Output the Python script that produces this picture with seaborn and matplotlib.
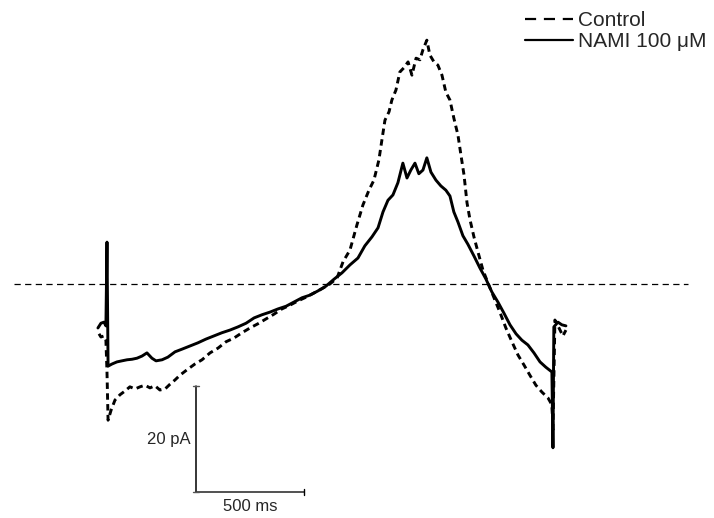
import matplotlib
matplotlib.use("Agg")
import matplotlib.pyplot as plt
import seaborn as sns
import pandas as pd
from matplotlib.lines import Line2D

# Time (ms) and current (pA)
nami_t = [-42, -28, -14, -5, 0, 5, 23, 46, 69, 93, 116, 139, 162, 185, 208, 227, 255, 282, 315, 347,
          384, 421, 458, 495, 532, 569, 606, 644, 681, 718, 755, 792, 829, 866, 903, 940, 977, 1014,
          1051, 1088, 1125, 1162, 1194, 1227, 1255, 1278, 1301, 1324, 1347, 1370, 1389, 1407, 1426,
          1444, 1463, 1481, 1500, 1523, 1546, 1569, 1588, 1606, 1625, 1648, 1671, 1699, 1727, 1755,
          1782, 1810, 1838, 1866, 1894, 1921, 1949, 1977, 2005, 2032, 2060, 2065, 2069, 2088, 2106, 2125]
nami_i = [-8.3, -7.4, -7.2, -7.9, 7.9, -15.5, -15.1, -14.7, -14.5, -14.3, -14.2, -14.0, -13.6, -13.0,
          -14.0, -14.5, -14.3, -13.8, -12.8, -12.3, -11.7, -11.1, -10.4, -9.8, -9.2, -8.7, -8.1, -7.4,
          -6.4, -5.8, -5.3, -4.7, -4.2, -3.4, -2.6, -2.1, -1.3, -0.4, 0.9, 2.1, 3.6, 4.9, 7.2, 8.9,
          10.6, 13.6, 15.8, 16.8, 19.1, 22.8, 20.0, 21.5, 22.8, 20.8, 21.5, 23.8, 21.1, 19.6, 18.5,
          17.7, 16.6, 13.6, 11.7, 9.1, 7.5, 5.3, 3.0, 0.9, -1.5, -3.4, -5.5, -7.7, -9.4, -10.6, -11.5,
          -13.0, -14.7, -15.7, -16.6, -30.9, -8.1, -7.2, -7.7, -7.9]

ctrl_t = [-37, -28, -14, -5, 0, 5, 19, 37, 60, 83, 106, 130, 153, 176, 199, 222, 245, 269, 292, 315,
          338, 370, 407, 440, 477, 514, 551, 588, 625, 662, 699, 736, 773, 810, 847, 884, 921, 958,
          995, 1032, 1065, 1093, 1125, 1157, 1185, 1213, 1236, 1259, 1273, 1287, 1306, 1319, 1338,
          1356, 1375, 1394, 1412, 1431, 1449, 1463, 1481, 1495, 1514, 1532, 1551, 1569, 1588, 1606,
          1625, 1639, 1653, 1667, 1681, 1699, 1718, 1741, 1764, 1792, 1819, 1847, 1875, 1903, 1931,
          1958, 1986, 2014, 2042, 2060, 2065, 2074, 2093, 2111, 2125]
ctrl_i = [-9.4, -10.0, -9.8, -10.6, -16.6, -25.7, -23.8, -21.9, -20.9, -20.2, -19.4, -19.8, -19.4,
          -19.1, -19.6, -19.2, -20.0, -19.8, -18.9, -18.1, -17.2, -16.2, -15.1, -14.3, -13.0, -12.1,
          -10.9, -10.2, -9.2, -8.3, -7.5, -6.6, -5.7, -4.7, -4.0, -3.2, -2.5, -1.7, -0.9, 0.0, 1.1,
          4.2, 6.4, 11.1, 14.9, 17.7, 19.6, 23.4, 27.2, 30.9, 32.5, 34.7, 36.6, 40.0, 40.8, 41.9,
          39.4, 42.6, 42.3, 44.2, 46.0, 43.2, 41.9, 41.3, 39.4, 36.2, 34.7, 31.3, 28.1, 24.3, 20.6,
          15.3, 12.1, 8.9, 6.0, 2.6, 0.2, -2.6, -5.3, -8.3, -10.9, -13.4, -15.3, -17.2, -19.1,
          -20.4, -21.5, -22.8, -27.5, -6.8, -8.3, -9.8, -8.7]

series_labels = ["Control", "NAMI 100 \u03bcM"]
scale_ms = 500
scale_pa = 20

sns.set_style("white")
plt.rcParams["font.family"] = ["Liberation Sans", "DejaVu Sans"]

fig = plt.figure(figsize=(7.14, 5.18), dpi=100)
ax = fig.add_axes([0, 0, 1, 1])

ctrl_df = pd.DataFrame({"t": ctrl_t, "i": ctrl_i})
nami_df = pd.DataFrame({"t": nami_t, "i": nami_i})

sns.lineplot(data=ctrl_df, x="t", y="i", sort=False, estimator=None, ax=ax,
             color="black", lw=2.1, linestyle=(0, (2.2, 1.5)))
sns.lineplot(data=nami_df, x="t", y="i", sort=False, estimator=None, ax=ax,
             color="black", lw=2.1, linestyle="-")

# zero baseline
ax.plot([-431, 2690], [0, 0], color="black", lw=0.9, linestyle=(0, (5, 3.5)))

# scale bars
x0, y0 = 412, -39.25
ax.plot([x0, x0], [y0, y0 + scale_pa], color="black", lw=1.1)
ax.plot([x0 - 12, x0 + 12], [y0 + scale_pa, y0 + scale_pa], color="#555555", lw=1.0)
ax.plot([x0, x0 + scale_ms], [y0, y0], color="#333333", lw=1.2)
ax.plot([x0 + scale_ms, x0 + scale_ms], [y0 - 0.6, y0 + 0.6], color="black", lw=1.0)
ax.plot([x0 - 12, x0 + 12], [y0, y0], color="#555555", lw=1.0)
ax.text(x0 - 26, y0 + scale_pa / 2, f"{scale_pa} pA", ha="right", va="center", fontsize=12)
ax.text(x0 + scale_ms / 2, y0 - 1.3, f"{scale_ms} ms", ha="center", va="top", fontsize=12)

handles = [Line2D([], [], color="black", lw=1.6, linestyle=(0, (5, 3.5))),
           Line2D([], [], color="black", lw=1.6, linestyle="-")]
ax.legend(handles, series_labels, loc="upper left",
          bbox_to_anchor=(525 / 714, 1 - 11 / 518),
          frameon=False, fontsize=15, handlelength=2.3, handletextpad=0.25,
          labelspacing=0.1, borderpad=0, borderaxespad=0)

ax.set_xlim(-495.4, 2810.6)
ax.set_ylim(-44.15, 53.58)
ax.axis("off")
fig.savefig("out.png", dpi=100)
